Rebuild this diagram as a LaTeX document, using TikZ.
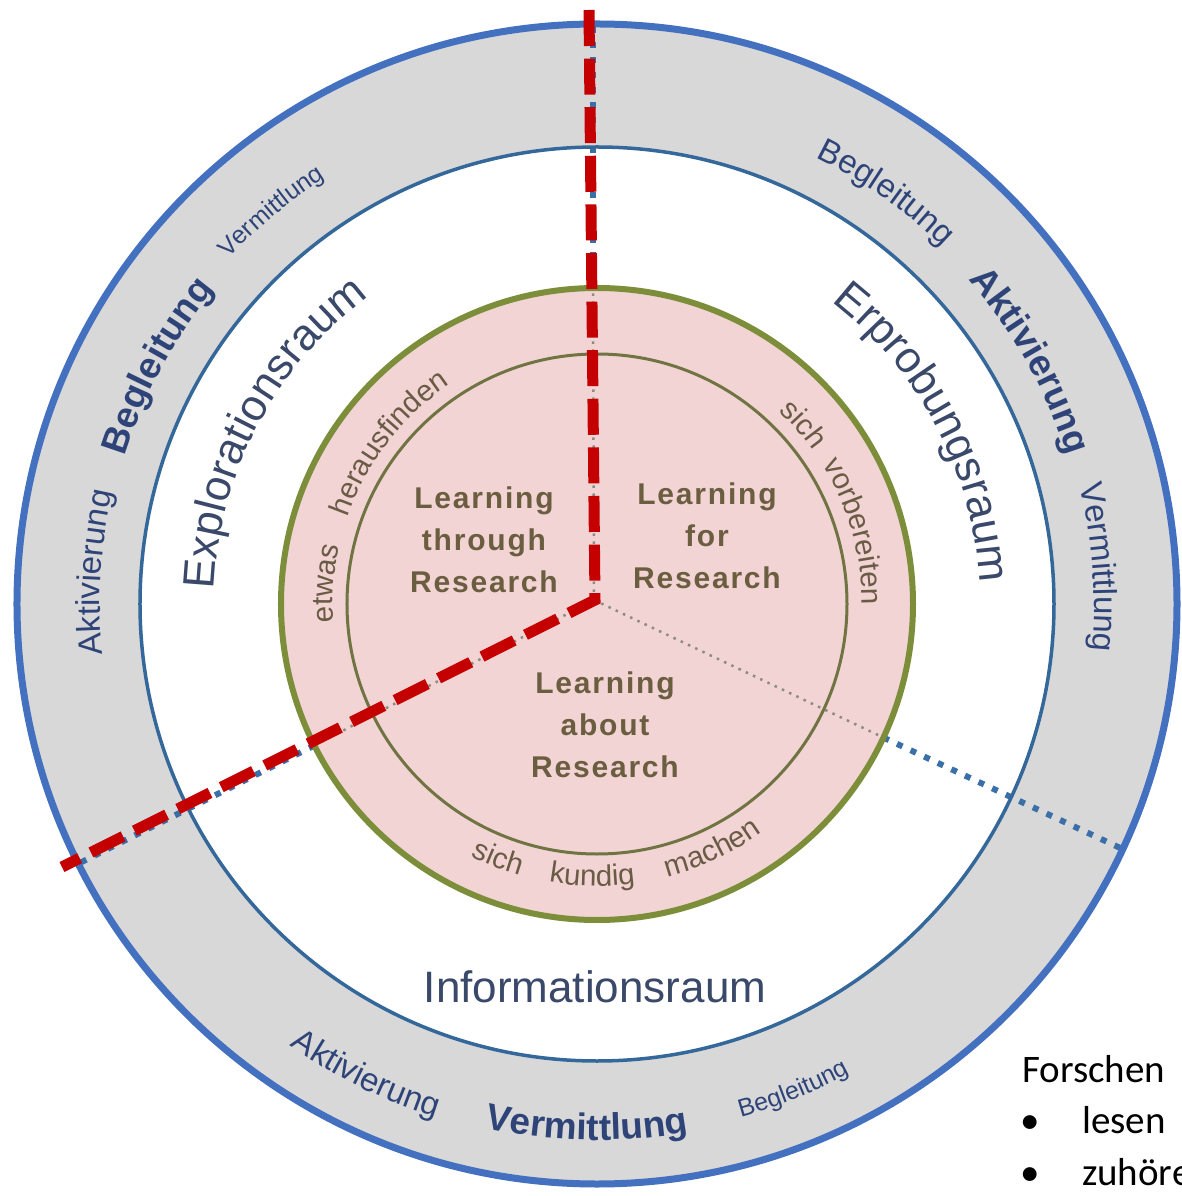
\documentclass[tikz,border=0pt]{standalone}
\usepackage{fontspec}
\setmainfont{Liberation Sans}
\newfontfamily\calfont{Carlito}
\newfontfamily\lblfont[LetterSpace=6]{Liberation Sans}
\usetikzlibrary{decorations.text}

\definecolor{ringblue}{HTML}{4470C0}
\definecolor{innerblue}{HTML}{35689A}
\definecolor{ringgray}{HTML}{D8D8D9}
\definecolor{pinkfill}{HTML}{F2D4D4}
\definecolor{greenout}{HTML}{7C8E3A}
\definecolor{greenin}{HTML}{6F7442}
\definecolor{ringtext}{HTML}{2E4478}
\definecolor{spacetext}{HTML}{3A4869}
\definecolor{browntext}{HTML}{6A5B45}
\definecolor{lbltext}{HTML}{6B5E40}
\definecolor{redline}{HTML}{C40000}
\definecolor{dotblue}{HTML}{3A6FA8}
\definecolor{dotgray}{HTML}{8C8C80}

\newcommand\fBold{\fontsize{37}{40}\selectfont\bfseries\color{ringtext}}
\newcommand\fReg{\fontsize{33}{36}\selectfont\color{ringtext}}
\newcommand\fSmall{\fontsize{25}{28}\selectfont\color{ringtext}}
\newcommand\fSpace{\fontsize{44}{48}\selectfont\color{spacetext}}
\newcommand\fPink{\fontsize{29.5}{31}\selectfont\color{browntext}}

% clockwise arc text, letters' tops outward
\newcommand\cwtext[4]{%
  \path[decorate,decoration={text along path,text align=center,text={|#3|#4}}]
    ({#2+60}:#1pt) arc[start angle={#2+60}, end angle={#2-60}, radius=#1pt];}
% counterclockwise arc text, letters' tops inward
\newcommand\ccwtext[4]{%
  \path[decorate,decoration={text along path,text align=center,text={|#3|#4}}]
    ({#2-60}:#1pt) arc[start angle={#2-60}, end angle={#2+60}, radius=#1pt];}

\tikzset{
  outerring/.style={draw=ringblue, line width=7pt},
  innerring/.style={draw=innerblue, line width=3.5pt},
  greenthick/.style={draw=greenout, line width=6pt},
  greenthin/.style={draw=greenin, line width=3pt},
  bluedots/.style={draw=dotblue, line width=6pt, dash pattern=on 6pt off 9pt},
  graydots/.style={draw=dotgray, line width=2.5pt, dash pattern=on 2.5pt off 5.5pt},
  reddash/.style={draw=redline, line width=11pt, dash pattern=on 36pt off 12.6pt},
  lbl/.style={align=center, inner sep=0pt, text=lbltext,
    font=\lblfont\bfseries\fontsize{30}{42}\selectfont},
  note/.style={anchor=base west, inner sep=0pt, text=black,
    font=\calfont\fontsize{39}{46}\selectfont}
}

\begin{document}
\begin{tikzpicture}
\useasboundingbox (-597pt,-592pt) rectangle (585pt,604pt);
\fill[white] (-597pt,-592pt) rectangle (585pt,604pt);

% rings
\fill[ringgray] (0,0) circle[radius=580pt];
\fill[white] (0,0) circle[radius=457pt];
\fill[pinkfill] (0,0) circle[radius=316pt];

% original dividing lines
\coordinate (O) at (-3pt,4pt);
\coordinate (vin) at (-4pt,316pt);
\coordinate (vout) at (-4pt,582pt);
\coordinate (lin) at (206.6:316pt);
\coordinate (lout) at (206.6:582pt);
\coordinate (rin) at (-25:316pt);
\coordinate (rout) at (-25:582pt);
\draw[graydots] (O) -- (vin);
\draw[graydots] (O) -- (lin);
\draw[graydots] (O) -- (rin);
\draw[bluedots] (vin) -- (vout);
\draw[bluedots] (lin) -- (lout);
\draw[bluedots] (rin) -- (rout);

% circle outlines
\draw[outerring] (0,0) circle[radius=580pt];
\draw[innerring] (0,0) circle[radius=457pt];
\draw[greenthick] (0,0) circle[radius=316pt];
\draw[greenthin] (0,0) circle[radius=250pt];

% gray ring words
\cwtext{497}{176.4}{\fReg}{Aktivierung}
\cwtext{495}{151.6}{\fBold}{Begleitung}
\cwtext{505}{129.7}{\fSmall}{Vermittlung}
\cwtext{497}{54.9}{\fReg}{Begleitung}
\cwtext{493}{29.3}{\fBold}{Aktivierung}
\cwtext{497}{4.2}{\fReg}{Vermittlung}
\ccwtext{538}{243.9}{\fReg}{Aktivierung}
\ccwtext{536}{268.9}{\fBold}{Vermittlung}
\ccwtext{533}{292}{\fSmall}{Begleitung}

% white ring words
\cwtext{383}{152.2}{\fSpace}{Explorationsraum}
\cwtext{383}{27.7}{\fSpace}{Erprobungsraum}
\node[inner sep=0pt, text=spacetext, font=\fontsize{44}{48}\selectfont] (info) at (-2pt,-383pt) {Informationsraum};

% pink ring words
\cwtext{264}{175.6}{\fPink}{etwas}
\cwtext{264}{142.3}{\fPink}{herausfinden}
\cwtext{265}{41}{\fPink}{sich}
\cwtext{265}{15.7}{\fPink}{vorbereiten}
\ccwtext{282}{248.8}{\fPink}{sich}
\ccwtext{282}{269}{\fPink}{kundig}
\ccwtext{282}{295.2}{\fPink}{machen}

% centre labels
\node[lbl] (through) at (-113pt,64pt) {Learning\\through\\Research};
\node[lbl] (for) at (110pt,68pt) {Learning\\for\\Research};
\node[lbl] (about) at (8pt,-121pt) {Learning\\about\\Research};

% red dashed overlay
\coordinate (redtop) at (-8pt,594pt);
\coordinate (redcorner) at (-2pt,4pt);
\coordinate (redend) at (-535pt,-263pt);
\draw[reddash] (redtop) -- (redcorner) -- (redend);

% note at bottom right
\node[note] (forschen) at (425pt,-478pt) {Forschen};
\node[note] (b1) at (423pt,-529pt) {•};
\node[note] (lesen) at (485pt,-529pt) {lesen};
\node[note] (b2) at (423pt,-581pt) {•};
\node[note] (zuhoeren) at (485pt,-581pt) {zuhören};
\end{tikzpicture}
\end{document}
